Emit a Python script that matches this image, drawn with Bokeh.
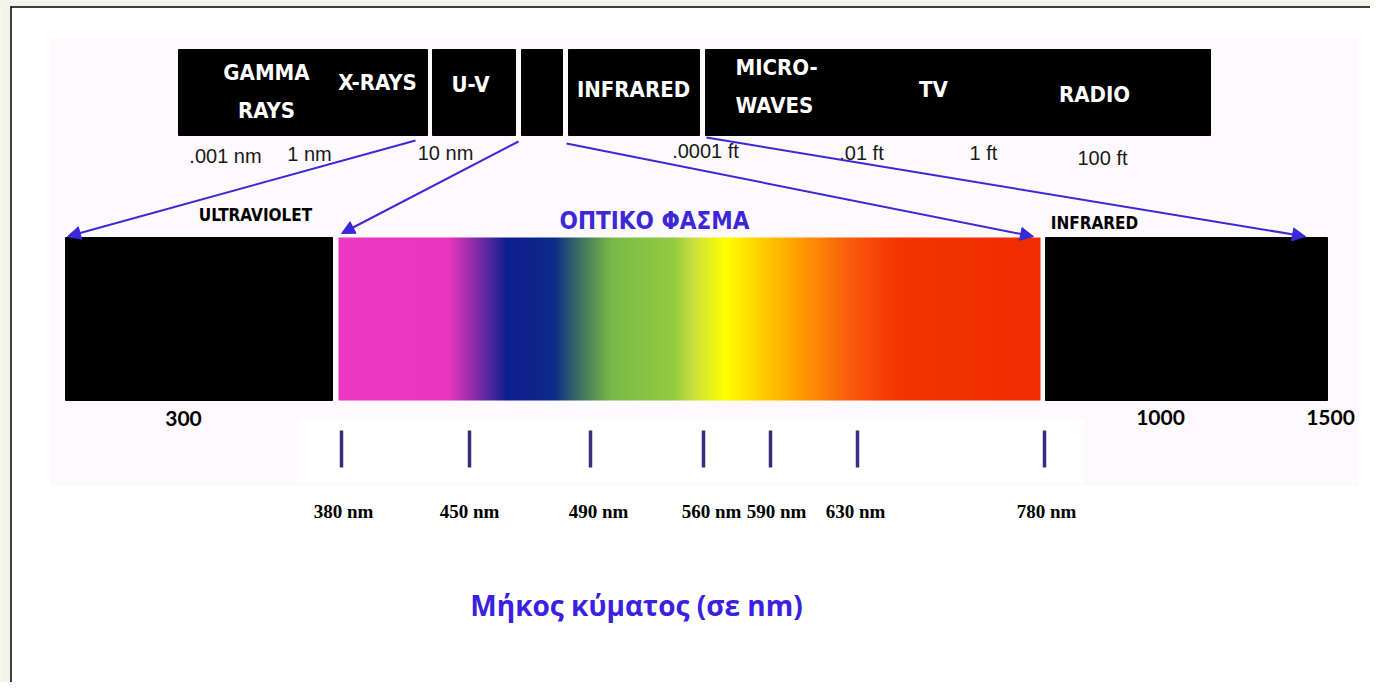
import numpy as np
from bokeh.plotting import figure
from bokeh.models import Range1d, Arrow, NormalHead, ColumnDataSource
from bokeh.core.properties import value
from bokeh.embed import file_html
from bokeh.resources import INLINE

# ---------------- data ----------------
top_bands = ["GAMMA\nRAYS", "X-RAYS", "U-V", "INFRARED", "MICRO-\nWAVES", "TV", "RADIO"]
top_scale = [".001 nm", "1 nm", "10 nm", ".0001 ft", ".01 ft", "1 ft", "100 ft"]
region_names = ["ULTRAVIOLET", "ΟΠΤΙΚΟ ΦΑΣΜΑ", "INFRARED"]
range_limits = ["300", "1000", "1500"]
visible_nm = [380, 450, 490, 560, 590, 630, 780]
axis_title = "Μήκος κύματος (σε nm)"

# ---------------- layout (pixel-like canvas units) ----------------
W, H = 1370, 682
X0, Y0 = 0, 0

top_boxes_l = [178, 432, 521, 568, 705]
top_boxes_r = [427, 515, 562, 699, 1210]
top_bar_top, top_bar_bot = 49, 135
band_x = [266, 377, 470, 633, 735, 933, 1094]
band_y = [91, 82, 84, 89, 86, 89, 94]
band_align = ["center", "center", "center", "center", "left", "center", "center"]
scale_x = [225, 309, 445, 705, 861, 983, 1102]
scale_y = [155, 153, 152, 150, 152, 152, 157]

low_l = [65, 1045]
low_r = [332, 1327]
spec_l, spec_r = 338, 1040
low_top, low_bot = 237, 400

arrow_x0 = [415, 518, 566, 706]
arrow_y0 = [140, 141, 143, 137]
arrow_x1 = [67, 341, 1033, 1305]
arrow_y1 = [236, 233, 236, 236]

region_x = [255, 654, 1094]
region_y = [214, 220, 222]
limit_x = [183, 1160, 1330]
limit_y = [418, 417, 417]

tick_x = [341, 469, 590, 703, 770, 857, 1044]
tick_label_x = [343, 469, 598, 711, 776, 855, 1046]

grad_stops_x = [338, 448, 482, 506, 554, 570, 611, 673, 692, 725, 759, 802, 850, 898, 1040]
grad_stops_c = ["#ea38c0", "#e836be", "#6e2aa4", "#0e1e90", "#0c2a88", "#2a5a6c", "#7ab848",
                "#92cc40", "#c8e040", "#ffff00", "#ffd000", "#ff9800", "#fa5a10", "#f23400", "#f02c00"]

BLUE = "#3c28d6"
NARROW = value("Liberation Sans Narrow, DejaVu Sans Condensed, sans-serif")

p = figure(width=W, height=H, x_range=Range1d(X0, X0 + W), y_range=Range1d(Y0 + H, Y0),
           output_backend="svg", toolbar_location=None, min_border=0,
           x_axis_type=None, y_axis_type=None)
p.grid.visible = False
p.outline_line_color = None
p.background_fill_color = "white"
p.border_fill_color = "white"

# frame
p.quad(left=[X0], right=[10], top=[Y0], bottom=[Y0 + H], color="#f2f3e9")
p.quad(left=[X0], right=[X0 + W], top=[Y0], bottom=[6], color="#f2f3e9")
p.segment(x0=[10.5], y0=[6], x1=[10.5], y1=[Y0 + H], line_color="black", line_width=1.5)
p.segment(x0=[10], y0=[6.5], x1=[X0 + W], y1=[6.5], line_color="black", line_width=1.5)

# faint pink panel
p.quad(left=[50], right=[1358], top=[38], bottom=[485], color="#fdf9fd")
p.quad(left=[298], right=[1082], top=[420], bottom=[482], color="white")

# top bar
p.quad(left=top_boxes_l, right=top_boxes_r, top=top_bar_top, bottom=top_bar_bot, color="black")
p.text(x=band_x, y=band_y, text=top_bands, text_color="white", text_font=NARROW,
       text_font_style="bold", text_font_size="22px", text_align=band_align,
       text_baseline="middle", text_line_height=1.5)
p.text(x=scale_x, y=scale_y, text=top_scale, text_color="#1a1a1a",
       text_font=value("Liberation Sans"), text_font_size="20px",
       text_align="center", text_baseline="middle")

# lower boxes
p.quad(left=low_l, right=low_r, top=low_top, bottom=low_bot, color="black")

ncol = spec_r - spec_l
xs = spec_l + np.arange(ncol) + 0.5
rgb = np.array([[int(c[i:i + 2], 16) for i in (1, 3, 5)] for c in grad_stops_c], dtype=float)
img = np.zeros((1, ncol), dtype=np.uint32)
view = img.view(dtype=np.uint8).reshape((1, ncol, 4))
for k in range(3):
    view[0, :, k] = np.round(np.interp(xs, grad_stops_x, rgb[:, k])).astype(np.uint8)
view[0, :, 3] = 255
p.image_rgba(image=[img], x=spec_l, y=low_top, dw=ncol, dh=low_bot - low_top)

# arrows
src = ColumnDataSource(dict(x0=arrow_x0, y0=arrow_y0, x1=arrow_x1, y1=arrow_y1))
p.add_layout(Arrow(end=NormalHead(size=13, fill_color=BLUE, line_color=BLUE),
                   x_start="x0", y_start="y0", x_end="x1", y_end="y1", source=src,
                   line_color=BLUE, line_width=2))

# region labels
p.text(x=region_x, y=region_y, text=region_names, text_color=["black", BLUE, "black"],
       text_font=NARROW, text_font_style="bold",
       text_font_size=["17px", "24px", "17px"], text_align="center", text_baseline="middle")
p.text(x=limit_x, y=limit_y, text=range_limits, text_color="black",
       text_font=value("Lato"), text_font_style="bold", text_font_size="21px",
       text_align="center", text_baseline="middle")

# visible ticks
p.segment(x0=tick_x, y0=430, x1=tick_x, y1=467, line_color="#3b2d7e", line_width=3.5)
p.text(x=tick_label_x, y=511, text=[f"{v} nm" for v in visible_nm], text_color="black",
       text_font=value("Liberation Serif"), text_font_style="bold", text_font_size="19px",
       text_align="center", text_baseline="middle")

# axis title
p.text(x=[636], y=[604], text=[axis_title], text_color="#3a20e0",
       text_font=value("Open Sans"), text_font_style="bold", text_font_size="28px",
       text_align="center", text_baseline="middle")

open("out.html", "w").write(file_html(p, INLINE))
